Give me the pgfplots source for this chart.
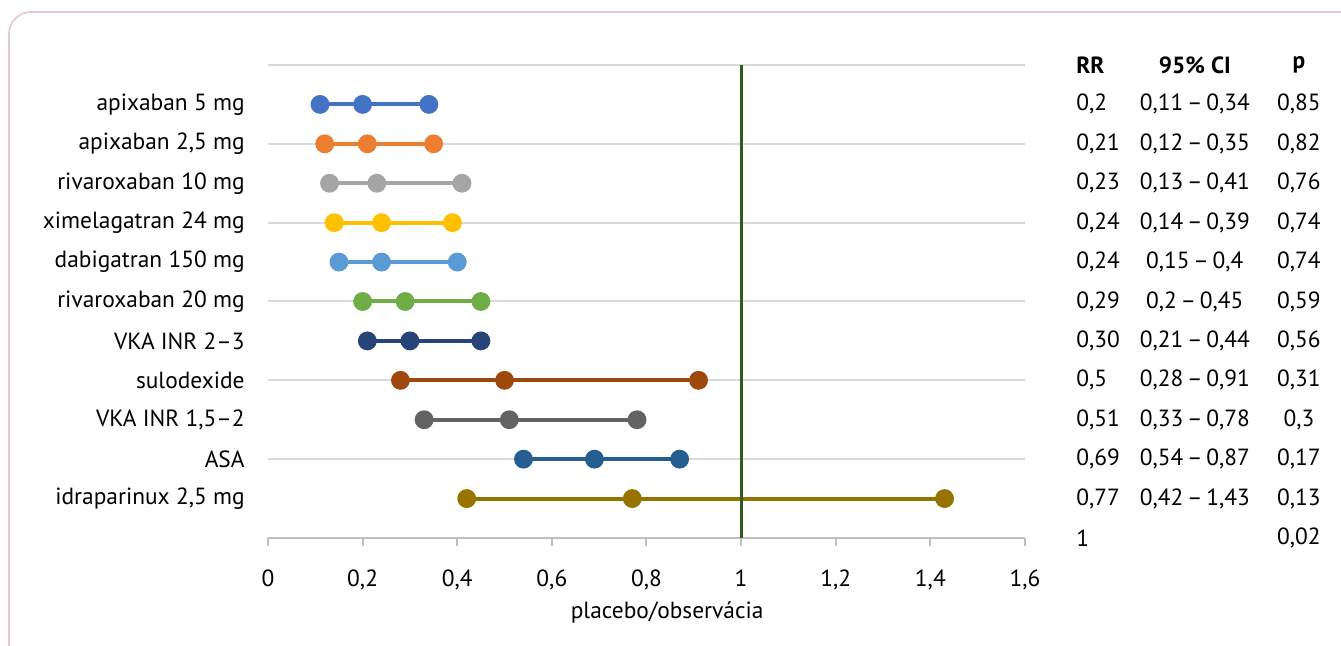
\documentclass[border=0pt]{standalone}
\usepackage{pgfplots}
\pgfplotsset{compat=1.18}
\usepackage{fontspec}
\setmainfont{PT Sans}
\definecolor{c1}{HTML}{4472C4}
\definecolor{c2}{HTML}{ED7D31}
\definecolor{c3}{HTML}{A5A5A5}
\definecolor{c4}{HTML}{FFC000}
\definecolor{c5}{HTML}{5B9BD5}
\definecolor{c6}{HTML}{70AD47}
\definecolor{c7}{HTML}{264478}
\definecolor{c8}{HTML}{9E480E}
\definecolor{c9}{HTML}{636363}
\definecolor{c10}{HTML}{255E91}
\definecolor{c11}{HTML}{997300}
\definecolor{refgreen}{HTML}{2F5A1E}
\definecolor{gridgray}{HTML}{D9D9D9}
\definecolor{axgray}{HTML}{BFBFBF}
\definecolor{framepink}{HTML}{EBC6CF}
\newcommand{\dsh}{\hspace{1.9pt}–\hspace{1.9pt}}
\newcommand{\trow}[4]{%
  \node[anchor=west] at (axis cs:1.691,#1) {#2};
  \node at (axis cs:1.959,#1) {#3};
  \node at (axis cs:2.179,#1) {#4};}
\begin{document}
\fontsize{11.7pt}{14pt}\selectfont
\begin{tikzpicture}
\useasboundingbox (0,0) rectangle (670.5pt,323pt);
\fill[white] (0,0) rectangle (670.5pt,323pt);
\begin{scope}
\clip (0,0) rectangle (670.5pt,323pt);
\draw[framepink, line width=0.8pt, rounded corners=11pt] (4.5pt,-30pt) -- (4.5pt,317pt) -- (720pt,317pt);
\end{scope}
\begin{axis}[
  at={(134pt,54pt)}, anchor=south west,
  scale only axis, width=378.5pt, height=236.5pt,
  xmin=0, xmax=1.6, ymin=0, ymax=12,
  clip=false,
  axis x line*=bottom, axis y line*=left,
  x axis line style={draw=axgray, line width=1pt, -},
  y axis line style={draw=none},
  xtick={0,0.2,0.4,0.6,0.8,1,1.2,1.4,1.6},
  xticklabels={0,{0,2},{0,4},{0,6},{0,8},1,{1,2},{1,4},{1,6}},
  x tick style={draw=axgray, line width=1pt},
  tick align=outside,
  major tick length=4pt,
  xticklabel style={inner sep=0pt, anchor=north, yshift=-11.5pt},
  ytick={1,2,3,4,5,6,7,8,9,10,11},
  yticklabels={{idraparinux 2,5 mg}, ASA, {VKA INR 1,5–2}, sulodexide, VKA INR 2–3, rivaroxaban 20 mg, dabigatran 150 mg, ximelagatran 24 mg, rivaroxaban 10 mg, {apixaban 2,5 mg}, apixaban 5 mg},
  y tick style={draw=none},
  yticklabel style={inner sep=0pt, anchor=east, xshift=-7.5pt},
  extra y ticks={2,4,6,8,10,12},
  extra y tick labels={},
  extra y tick style={grid=major, major grid style={draw=gridgray, line width=1pt}, tick style={draw=none}},
  tick label style={font=\fontsize{11.7pt}{14pt}\selectfont},
  /pgf/number format/assume math mode=true,
]
\addplot[c1, line width=2pt, mark=*, mark size=3.7pt] coordinates {(0.11,11) (0.20,11) (0.34,11)};
\addplot[c2, line width=2pt, mark=*, mark size=3.7pt] coordinates {(0.12,10) (0.21,10) (0.35,10)};
\addplot[c3, line width=2pt, mark=*, mark size=3.7pt] coordinates {(0.13,9) (0.23,9) (0.41,9)};
\addplot[c4, line width=2pt, mark=*, mark size=3.7pt] coordinates {(0.14,8) (0.24,8) (0.39,8)};
\addplot[c5, line width=2pt, mark=*, mark size=3.7pt] coordinates {(0.15,7) (0.24,7) (0.40,7)};
\addplot[c6, line width=2pt, mark=*, mark size=3.7pt] coordinates {(0.20,6) (0.29,6) (0.45,6)};
\addplot[c7, line width=2pt, mark=*, mark size=3.7pt] coordinates {(0.21,5) (0.30,5) (0.45,5)};
\addplot[c8, line width=2pt, mark=*, mark size=3.7pt] coordinates {(0.28,4) (0.50,4) (0.91,4)};
\addplot[c9, line width=2pt, mark=*, mark size=3.7pt] coordinates {(0.33,3) (0.51,3) (0.78,3)};
\addplot[c10, line width=2pt, mark=*, mark size=3.7pt] coordinates {(0.54,2) (0.69,2) (0.87,2)};
\addplot[c11, line width=2pt, mark=*, mark size=3.7pt] coordinates {(0.42,1) (0.77,1) (1.43,1)};
\addplot[refgreen, line width=1.5pt] coordinates {(1,0) (1,12)};
% table
\node[anchor=west, font=\bfseries] at (axis cs:1.691,12) {RR};
\node[font=\bfseries] at (axis cs:1.959,12) {95\% CI};
\node[font=\bfseries] at (axis cs:2.179,12) {p};
\trow{11}{0,2}{0,11\dsh 0,34}{0,85}
\trow{10}{0,21}{0,12\dsh 0,35}{0,82}
\trow{9}{0,23}{0,13\dsh 0,41}{0,76}
\trow{8}{0,24}{0,14\dsh 0,39}{0,74}
\trow{7}{0,24}{0,15\dsh 0,4}{0,74}
\trow{6}{0,29}{0,2\dsh 0,45}{0,59}
\trow{5}{0,30}{0,21\dsh 0,44}{0,56}
\trow{4}{0,5}{0,28\dsh 0,91}{0,31}
\trow{3}{0,51}{0,33\dsh 0,78}{0,3}
\trow{2}{0,69}{0,54\dsh 0,87}{0,17}
\trow{1}{0,77}{0,42\dsh 1,43}{0,13}
\trow{0}{1}{}{0,02}
\node at (axis cs:0.8436,-1.89) {placebo/observácia};
\end{axis}
\end{tikzpicture}
\end{document}
